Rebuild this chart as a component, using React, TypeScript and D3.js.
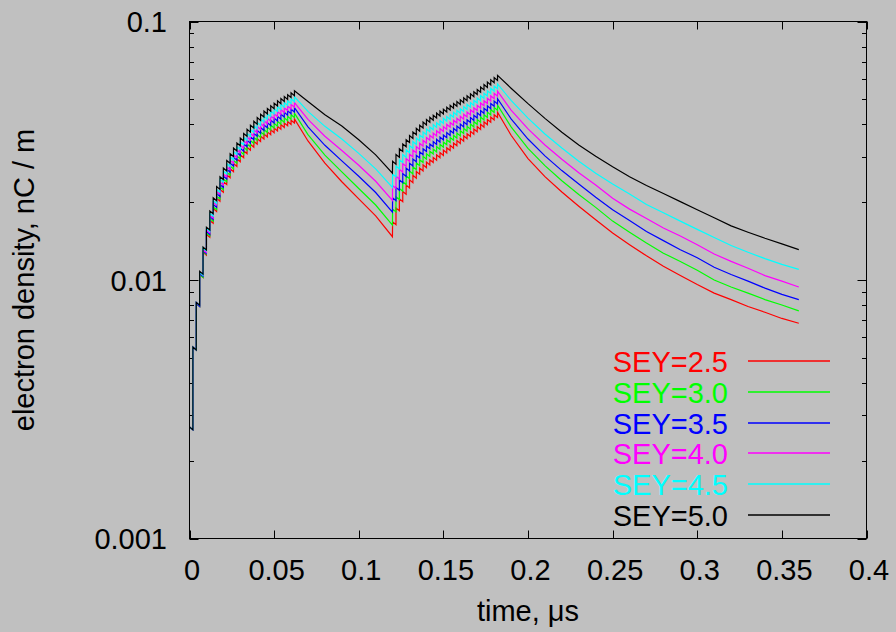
import React from 'react';
import * as d3 from 'd3';

const W = 896;
const H = 632;

// Bunch train structure (time in µs)
const BUNCH_SPACING = 0.002;
const TRAIN1_START = 0;
const TRAIN2_START = 0.12;
const INTER_BUNCH_DECAY = 0.975;

// Sample times in the gap between trains and after the second train
const GAP_T = [0.07, 0.08, 0.09, 0.1, 0.11, 0.1199];
const TAIL_T = [0.19, 0.2, 0.21, 0.22, 0.23, 0.24, 0.25, 0.26, 0.27, 0.28, 0.29, 0.3, 0.31, 0.32, 0.33, 0.34, 0.35, 0.36];

// Electron density after each bunch passage (nC/m), train 1
const RED_TRAIN1 = [0.0027, 0.0055, 0.0081, 0.0105, 0.0128, 0.0150, 0.0170, 0.0189, 0.0207, 0.0224, 0.0240, 0.0255, 0.0269, 0.0282, 0.0294, 0.0305, 0.0316, 0.0326, 0.0335, 0.0344, 0.0352, 0.0360, 0.0367, 0.0374, 0.0381, 0.0387, 0.0393, 0.0399, 0.0405, 0.0410, 0.0415, 0.0420];
const GREEN_TRAIN1 = [0.0027, 0.0055, 0.0081, 0.0105, 0.0129, 0.0152, 0.0173, 0.0192, 0.0211, 0.0229, 0.0246, 0.0261, 0.0276, 0.0290, 0.0302, 0.0314, 0.0326, 0.0336, 0.0346, 0.0356, 0.0365, 0.0374, 0.0382, 0.0390, 0.0397, 0.0404, 0.0411, 0.0418, 0.0424, 0.0430, 0.0436, 0.0442];
const BLUE_TRAIN1 = [0.0027, 0.0055, 0.0081, 0.0106, 0.0130, 0.0154, 0.0176, 0.0196, 0.0216, 0.0234, 0.0252, 0.0268, 0.0283, 0.0298, 0.0311, 0.0323, 0.0336, 0.0347, 0.0358, 0.0369, 0.0379, 0.0389, 0.0398, 0.0406, 0.0415, 0.0423, 0.0430, 0.0438, 0.0445, 0.0451, 0.0458, 0.0464];
const MAGENTA_TRAIN1 = [0.0027, 0.0055, 0.0082, 0.0107, 0.0131, 0.0156, 0.0178, 0.0200, 0.0220, 0.0239, 0.0257, 0.0274, 0.0290, 0.0305, 0.0319, 0.0332, 0.0345, 0.0357, 0.0369, 0.0381, 0.0392, 0.0403, 0.0413, 0.0422, 0.0431, 0.0440, 0.0448, 0.0456, 0.0464, 0.0471, 0.0478, 0.0486];
const CYAN_TRAIN1 = [0.0027, 0.0055, 0.0082, 0.0107, 0.0133, 0.0158, 0.0181, 0.0203, 0.0224, 0.0245, 0.0264, 0.0282, 0.0299, 0.0314, 0.0328, 0.0342, 0.0356, 0.0369, 0.0382, 0.0395, 0.0407, 0.0419, 0.0430, 0.0440, 0.0450, 0.0460, 0.0469, 0.0478, 0.0486, 0.0494, 0.0502, 0.0511];
const BLACK_TRAIN1 = [0.0027, 0.0055, 0.0082, 0.0108, 0.0134, 0.0160, 0.0185, 0.0208, 0.0230, 0.0251, 0.0271, 0.0290, 0.0308, 0.0324, 0.0339, 0.0354, 0.0369, 0.0383, 0.0397, 0.0411, 0.0425, 0.0438, 0.0450, 0.0461, 0.0472, 0.0483, 0.0493, 0.0503, 0.0512, 0.0521, 0.0530, 0.0540];

// Decay between trains
const RED_GAP = [0.0345, 0.0283, 0.0240, 0.0206, 0.0177, 0.0147];
const GREEN_GAP = [0.0365, 0.0304, 0.0262, 0.0226, 0.0195, 0.0163];
const BLUE_GAP = [0.0391, 0.0332, 0.0289, 0.0252, 0.0218, 0.0183];
const MAGENTA_GAP = [0.0418, 0.0360, 0.0317, 0.0278, 0.0241, 0.0203];
const CYAN_GAP = [0.0449, 0.0393, 0.0351, 0.0309, 0.0269, 0.0228];
const BLACK_GAP = [0.0490, 0.0436, 0.0394, 0.0349, 0.0305, 0.0259];

// Train 2
const RED_TRAIN2 = [0.0168, 0.0190, 0.0206, 0.0220, 0.0233, 0.0244, 0.0254, 0.0263, 0.0271, 0.0279, 0.0286, 0.0292, 0.0298, 0.0305, 0.0311, 0.0318, 0.0325, 0.0332, 0.0339, 0.0346, 0.0353, 0.0361, 0.0368, 0.0376, 0.0384, 0.0392, 0.0400, 0.0409, 0.0418, 0.0427, 0.0436, 0.0446];
const GREEN_TRAIN2 = [0.0188, 0.0210, 0.0226, 0.0240, 0.0253, 0.0264, 0.0274, 0.0284, 0.0292, 0.0301, 0.0308, 0.0315, 0.0321, 0.0328, 0.0335, 0.0342, 0.0349, 0.0356, 0.0363, 0.0370, 0.0378, 0.0386, 0.0393, 0.0401, 0.0410, 0.0418, 0.0427, 0.0436, 0.0446, 0.0456, 0.0465, 0.0475];
const BLUE_TRAIN2 = [0.0208, 0.0228, 0.0244, 0.0258, 0.0271, 0.0283, 0.0294, 0.0304, 0.0313, 0.0322, 0.0330, 0.0336, 0.0343, 0.0350, 0.0357, 0.0364, 0.0372, 0.0379, 0.0386, 0.0394, 0.0401, 0.0409, 0.0417, 0.0425, 0.0434, 0.0443, 0.0452, 0.0462, 0.0472, 0.0482, 0.0492, 0.0503];
const MAGENTA_TRAIN2 = [0.0232, 0.0252, 0.0268, 0.0282, 0.0295, 0.0307, 0.0318, 0.0328, 0.0338, 0.0347, 0.0356, 0.0363, 0.0370, 0.0378, 0.0385, 0.0392, 0.0400, 0.0407, 0.0415, 0.0422, 0.0430, 0.0438, 0.0446, 0.0455, 0.0464, 0.0474, 0.0484, 0.0494, 0.0505, 0.0516, 0.0527, 0.0538];
const CYAN_TRAIN2 = [0.0257, 0.0276, 0.0292, 0.0306, 0.0319, 0.0331, 0.0343, 0.0354, 0.0364, 0.0374, 0.0384, 0.0391, 0.0399, 0.0406, 0.0414, 0.0422, 0.0429, 0.0437, 0.0445, 0.0453, 0.0460, 0.0469, 0.0478, 0.0486, 0.0496, 0.0506, 0.0517, 0.0528, 0.0540, 0.0551, 0.0563, 0.0574];
const BLACK_TRAIN2 = [0.0288, 0.0306, 0.0322, 0.0336, 0.0349, 0.0362, 0.0374, 0.0386, 0.0397, 0.0408, 0.0418, 0.0426, 0.0434, 0.0442, 0.0450, 0.0458, 0.0466, 0.0474, 0.0482, 0.0490, 0.0498, 0.0507, 0.0516, 0.0525, 0.0535, 0.0546, 0.0558, 0.0570, 0.0583, 0.0595, 0.0607, 0.0619];

// Decay after train 2
const RED_TAIL = [0.0363, 0.0295, 0.0251, 0.0219, 0.0193, 0.0171, 0.0152, 0.0137, 0.0124, 0.0113, 0.0104, 0.0096, 0.0089, 0.0084, 0.0079, 0.0075, 0.0071, 0.0068];
const GREEN_TAIL = [0.0391, 0.0323, 0.0277, 0.0242, 0.0214, 0.0191, 0.0169, 0.0153, 0.0139, 0.0127, 0.0118, 0.0109, 0.0100, 0.0094, 0.0089, 0.0084, 0.0080, 0.0076];
const BLUE_TAIL = [0.0420, 0.0351, 0.0302, 0.0265, 0.0235, 0.0209, 0.0187, 0.0170, 0.0154, 0.0142, 0.0131, 0.0122, 0.0112, 0.0105, 0.0099, 0.0093, 0.0088, 0.0084];
const MAGENTA_TAIL = [0.0454, 0.0384, 0.0333, 0.0293, 0.0260, 0.0233, 0.0207, 0.0188, 0.0173, 0.0159, 0.0148, 0.0137, 0.0126, 0.0118, 0.0111, 0.0104, 0.0099, 0.0094];
const CYAN_TAIL = [0.0495, 0.0423, 0.0367, 0.0324, 0.0288, 0.0259, 0.0235, 0.0215, 0.0196, 0.0182, 0.0169, 0.0157, 0.0146, 0.0136, 0.0128, 0.0121, 0.0115, 0.0110];
const BLACK_TAIL = [0.0552, 0.0481, 0.0422, 0.0373, 0.0333, 0.0301, 0.0274, 0.0251, 0.0232, 0.0216, 0.0201, 0.0187, 0.0174, 0.0162, 0.0153, 0.0145, 0.0138, 0.0131];

const LABELS = ['SEY=2.5', 'SEY=3.0', 'SEY=3.5', 'SEY=4.0', 'SEY=4.5', 'SEY=5.0'];
const COLORS = ['#ff0000', '#00ff00', '#0000ff', '#ff00ff', '#00ffff', '#000000'];

const X_TICKS = [0, 0.05, 0.1, 0.15, 0.2, 0.25, 0.3, 0.35, 0.4];
const X_TICK_LABELS = ['0', '0.05', '0.1', '0.15', '0.2', '0.25', '0.3', '0.35', '0.4'];
const Y_TICKS = [0.1, 0.01, 0.001];
const Y_TICK_LABELS = ['0.1', '0.01', '0.001'];

const SERIES = [
  { label: LABELS[0], color: COLORS[0], train1: RED_TRAIN1, gap: RED_GAP, train2: RED_TRAIN2, tail: RED_TAIL },
  { label: LABELS[1], color: COLORS[1], train1: GREEN_TRAIN1, gap: GREEN_GAP, train2: GREEN_TRAIN2, tail: GREEN_TAIL },
  { label: LABELS[2], color: COLORS[2], train1: BLUE_TRAIN1, gap: BLUE_GAP, train2: BLUE_TRAIN2, tail: BLUE_TAIL },
  { label: LABELS[3], color: COLORS[3], train1: MAGENTA_TRAIN1, gap: MAGENTA_GAP, train2: MAGENTA_TRAIN2, tail: MAGENTA_TAIL },
  { label: LABELS[4], color: COLORS[4], train1: CYAN_TRAIN1, gap: CYAN_GAP, train2: CYAN_TRAIN2, tail: CYAN_TAIL },
  { label: LABELS[5], color: COLORS[5], train1: BLACK_TRAIN1, gap: BLACK_GAP, train2: BLACK_TRAIN2, tail: BLACK_TAIL },
];

function buildPoints(s: any): [number, number][] {
  const pts: [number, number][] = [];
  const addTrain = (start: number, peaks: number[]) => {
    peaks.forEach((p, k) => {
      const t = start + k * BUNCH_SPACING;
      pts.push([t, p]);
      if (k < peaks.length - 1) pts.push([t + BUNCH_SPACING, p * INTER_BUNCH_DECAY]);
    });
  };
  addTrain(TRAIN1_START, s.train1);
  GAP_T.forEach((t, i) => pts.push([t, s.gap[i]]));
  addTrain(TRAIN2_START, s.train2);
  TAIL_T.forEach((t, i) => pts.push([t, s.tail[i]]));
  return pts;
}

const FONT = '"Liberation Sans", Arial, Helvetica, sans-serif';
const FS = 29;

export default function App() {
  const L = 189.5, R = 866.5, T = 21.5, B = 538.5;
  const x = d3.scaleLinear().domain([0, 0.4]).range([L, R]);
  const y = d3.scaleLog().domain([0.001, 0.1]).range([B, T]);
  const line = d3.line<[number, number]>().x(d => x(d[0])).y(d => y(d[1]));

  const yAll = y.ticks();
  const isMajor = (v: number) => Math.abs(Math.log10(v) - Math.round(Math.log10(v))) < 1e-6;

  let tickPath = '';
  yAll.forEach(v => {
    const yy = Math.round(y(v)) + 0.5;
    const len = isMajor(v) ? 9 : 4.5;
    tickPath += `M${L},${yy}H${L + len}M${R},${yy}H${R - len}`;
  });
  X_TICKS.forEach(v => {
    const xx = Math.round(x(v)) + 0.5;
    tickPath += `M${xx},${B}V${B - 8}M${xx},${T}V${T + 8}`;
  });

  const legendY0 = 361;
  const legendDy = 30.8;

  return (
    <div style={{ position: 'absolute', left: 0, top: 0 }}>
      <svg width={W} height={H} style={{ display: 'block' }}>
        <rect x={0} y={0} width={W} height={H} fill="#c0c0c0" />
        <path d={tickPath} stroke="#000" strokeWidth={1} fill="none" />
        {SERIES.map((s, i) => (
          <path key={i} d={line(buildPoints(s)) || ''} stroke={s.color} strokeWidth={1.2} fill="none" strokeLinejoin="miter" />
        ))}
        <rect x={L} y={T} width={R - L} height={B - T} fill="none" stroke="#000" strokeWidth={1} />
        {Y_TICKS.map((v, i) => (
          <text key={i} x={167} y={y(v) + 10.5} textAnchor="end" fontFamily={FONT} fontSize={FS} fill="#000">{Y_TICK_LABELS[i]}</text>
        ))}
        {X_TICKS.map((v, i) => (
          <text key={i} x={x(v) + 2.5} y={580} textAnchor="middle" fontFamily={FONT} fontSize={FS} fill="#000">{X_TICK_LABELS[i]}</text>
        ))}
        <text x={528} y={621} textAnchor="middle" fontFamily={FONT} fontSize={FS} fill="#000">time, μs</text>
        <text transform={`translate(34,280) rotate(-90)`} textAnchor="middle" fontFamily={FONT} fontSize={FS} fill="#000">electron density, nC / m</text>
        {SERIES.map((s, i) => {
          const ly = Math.round(legendY0 + i * legendDy);
          return (
            <g key={i}>
              <text x={728} y={ly + 10.5} textAnchor="end" fontFamily={FONT} fontSize={FS} fill={s.color}>{s.label}</text>
              <path d={`M748,${ly}H830`} stroke={s.color} strokeWidth={1.4} fill="none" />
            </g>
          );
        })}
      </svg>
    </div>
  );
}
